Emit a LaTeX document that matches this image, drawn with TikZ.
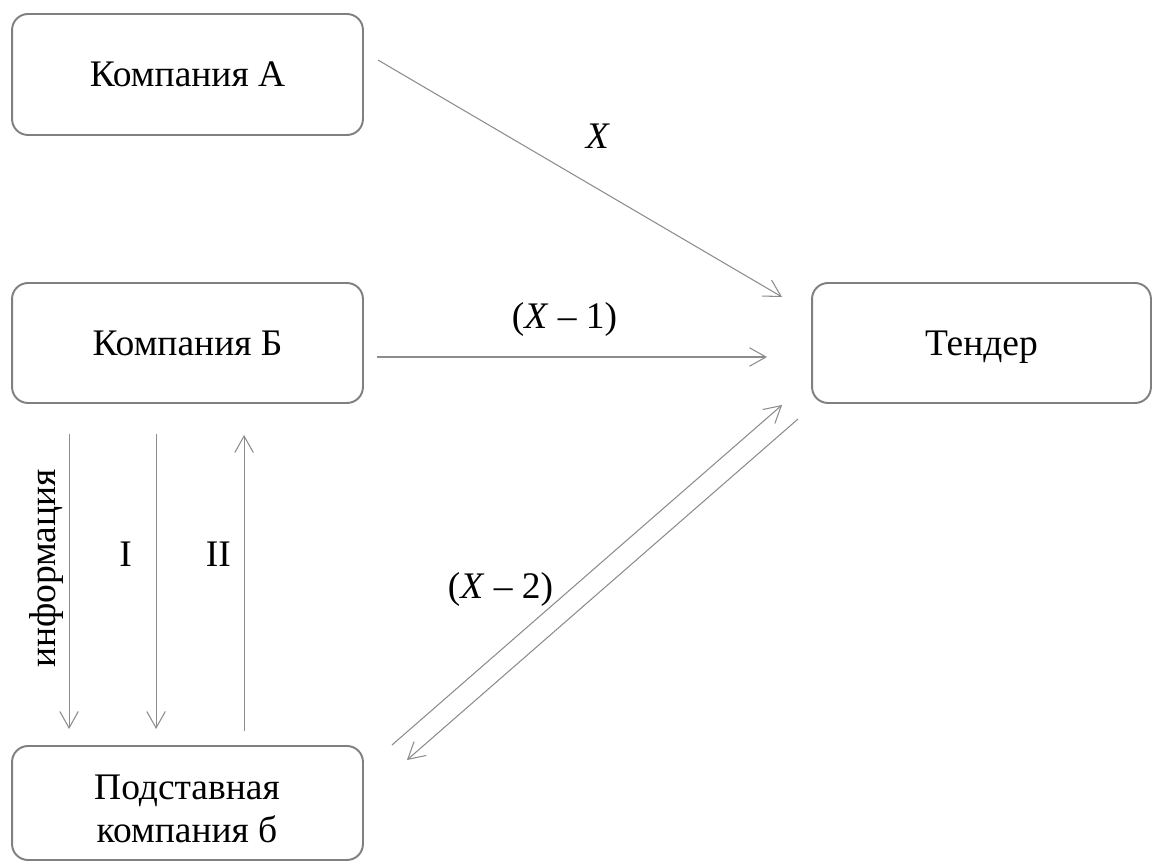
\documentclass[tikz,border=0pt]{standalone}
\usepackage{fontspec}
\setmainfont{Liberation Serif}
\usetikzlibrary{
  arrows.meta,
  positioning,
}
\definecolor{boxgray}{gray}{0.5}
\definecolor{linegray}{gray}{0.55}
\tikzset{
  semithick,
  every node/.style={
    font=\fontsize{21.34}{24.87}\selectfont
  },
  my box/.style={
    draw=boxgray,
    line width=1.1pt,
    rounded corners=0.32cm,
    minimum width=7.02cm,
    minimum height=2.4cm,
    inner sep=0mm,
    text depth=0pt,
    rectangle
  },
  my label/.style={
    inner sep=0mm
  },
  flow/.style={
    linegray,
    line width=0.6pt,
    -{Straight Barb[length=0.33cm,width=0.37cm]}
  }
}

\begin{document}
\begin{tikzpicture}[x=0.02cm,y=-0.02cm]
\useasboundingbox (0,0) rectangle (1154,861);
\node[my box,minimum height=2.42cm] (kA) at (187.5,74.5) {Компания А};
\node[my box] (kB) at (187.5,343) {Компания Б};
\node[my box,minimum width=6.78cm] (tender) at (981.5,343) {Тендер};
\node[my box,minimum height=2.28cm] (podst) at (187.5,803) {};
\node[my label,align=center] (podstTxt) at (187,809) {Подставная\\компания б};
% bids
\path[flow]
  ([shift={(14,-14.5)}]kA.east)     edge ([shift={(-29,-46)}]tender.west)
  ([shift={(13,14)}]kB.east)        edge ([shift={(-44,14)}]tender.west)
  ([shift={(28,0)}]podst.north east) edge ([shift={(-29,1)}]tender.south west)
  ([shift={(-13,15)}]tender.south west) edge ([shift={(43,15)}]podst.north east);
\path[flow]
  ([shift={(58,30)}]kB.south west)  edge ([shift={(58,-16)}]podst.north west)
  ([shift={(145,30)}]kB.south west) edge ([shift={(145,-16)}]podst.north west)
  ([shift={(233,-14)}]podst.north west) edge ([shift={(233,31)}]kB.south west);
\node[my label] (lblX)  at (598,136)   {\textit{X}};
\node[my label] (lblX1) at (564.5,319.5) {(\textit{X} – 1)};
\node[my label] (lblX2) at (500.5,589) {(\textit{X} – 2)};
\node[my label,rotate=90,anchor=base] (lblInfo) at (55,568.5) {информация};
\node[my label] (lblI)  at (125.7,554) {I};
\node[my label] (lblII) at (218.3,554) {II};
\end{tikzpicture}
\end{document}
